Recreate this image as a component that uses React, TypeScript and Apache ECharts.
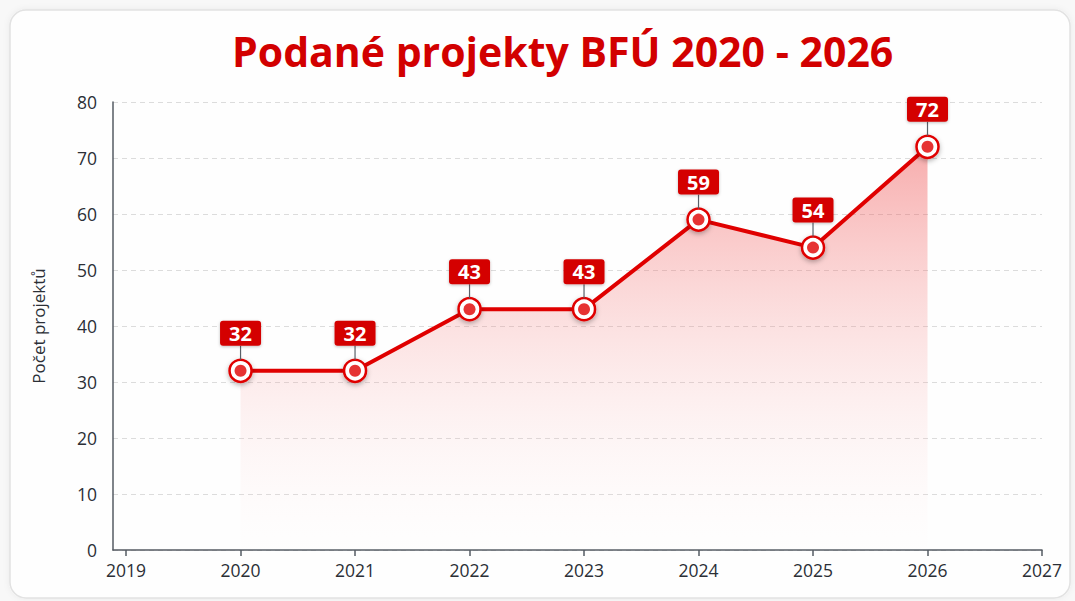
import React, { useEffect, useRef } from "react";
import * as echarts from "echarts";

const titleText = "Podané projekty BFÚ 2020 - 2026";
const yAxisName = "Počet projektů";
const years = [2020, 2021, 2022, 2023, 2024, 2025, 2026];
const values = [32, 32, 43, 43, 59, 54, 72];
const xTickValues = [2019, 2020, 2021, 2022, 2023, 2024, 2025, 2026, 2027];

const FONT = "'Open Sans', 'Noto Sans', sans-serif";

export default function App() {
  const ref = useRef<HTMLDivElement>(null);
  useEffect(() => {
    document.body.style.margin = "0";
    const chart = echarts.init(ref.current!, null, { renderer: "svg" });
    const pts = years.map((y, i) => [y, values[i]]);
    chart.setOption({
      animation: false,
      backgroundColor: "#f8f8f8",
      textStyle: { fontFamily: FONT },
      graphic: [
        {
          type: "rect",
          z: -10,
          shape: { x: 10, y: 10, width: 1060, height: 588, r: 16 },
          style: {
            fill: "#fefefe",
            stroke: "#e2e2e2",
            lineWidth: 1.5,
            shadowBlur: 6,
            shadowColor: "rgba(0,0,0,0.06)",
          },
        },
      ],
      title: {
        text: titleText,
        left: 227,
        top: 25,
        textStyle: { color: "#d20000", fontSize: 41, fontWeight: "bold", fontFamily: FONT },
      },
      grid: { left: 113, right: 33, top: 102, bottom: 51 },
      xAxis: {
        type: "value",
        min: 2018.886,
        max: 2027,
        splitLine: { show: false },
        axisLine: { show: true, onZero: false, lineStyle: { color: "#555b63", width: 1.5 } },
        axisTick: { show: true, customValues: xTickValues, length: 6, lineStyle: { color: "#555b63", width: 1.5 } },
        axisLabel: {
          customValues: xTickValues,
          formatter: (v: number) => String(Math.round(v)),
          color: "#2b2f36",
          fontSize: 17.5,
          margin: 11,
          fontFamily: FONT,
        },
      },
      yAxis: {
        type: "value",
        min: 0,
        max: 80,
        interval: 10,
        name: yAxisName,
        nameLocation: "middle",
        nameGap: 66,
        nameRotate: 90,
        nameTextStyle: { color: "#2b2f36", fontSize: 17, fontFamily: FONT },
        axisLine: { show: true, lineStyle: { color: "#555b63", width: 1.5 } },
        axisTick: { show: false },
        axisLabel: { color: "#2b2f36", fontSize: 17.5, margin: 16, fontFamily: FONT },
        splitLine: { show: true, lineStyle: { color: "#dcdcdc", type: [5, 4], width: 1 } },
      },
      series: [
        {
          type: "line",
          data: pts,
          z: 3,
          lineStyle: { color: "#e00000", width: 4 },
          symbol: "circle",
          symbolSize: 22,
          itemStyle: {
            color: "#ffffff",
            borderColor: "#e00000",
            borderWidth: 2.5,
            shadowBlur: 5,
            shadowColor: "rgba(0,0,0,0.3)",
            shadowOffsetY: 2,
          },
          areaStyle: {
            color: new echarts.graphic.LinearGradient(0, 0, 0, 1, [
              { offset: 0, color: "rgba(238,60,60,0.6)" },
              { offset: 0.5, color: "rgba(245,130,130,0.28)" },
              { offset: 1, color: "rgba(255,235,235,0.04)" },
            ]),
          },
        },
        {
          type: "scatter",
          data: pts,
          z: 4,
          symbol: "circle",
          symbolSize: 12,
          itemStyle: { color: "#e00000" },
        },
        {
          type: "custom",
          z: 5,
          clip: false,
          data: pts,
          renderItem: (params: any, api: any) => {
            const p = api.coord([api.value(0), api.value(1)]);
            const v = api.value(1);
            return {
              type: "group",
              children: [
                {
                  type: "line",
                  shape: { x1: p[0], y1: p[1] - 11, x2: p[0], y2: p[1] - 25 },
                  style: { stroke: "#5a6068", lineWidth: 1.2 },
                },
                {
                  type: "rect",
                  shape: { x: p[0] - 20.5, y: p[1] - 50, width: 41, height: 25, r: 3 },
                  style: {
                    fill: "#d40000",
                    shadowBlur: 3,
                    shadowColor: "rgba(0,0,0,0.25)",
                    shadowOffsetY: 1,
                  },
                },
                {
                  type: "text",
                  style: {
                    text: String(v),
                    x: p[0],
                    y: p[1] - 37.5,
                    align: "center",
                    verticalAlign: "middle",
                    fill: "#ffffff",
                    font: `bold 20px ${FONT}`,
                  },
                },
              ],
            };
          },
        },
      ],
    });
    return () => chart.dispose();
  }, []);
  return <div ref={ref} style={{ position: "fixed", left: 0, top: 0, width: 1075, height: 601 }} />;
}
